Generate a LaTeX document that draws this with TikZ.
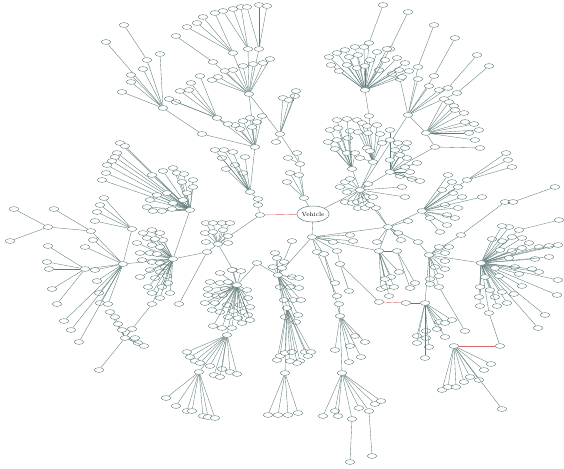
\documentclass[tikz,border=0pt]{standalone}
\usetikzlibrary{shapes.geometric}
\definecolor{ec}{RGB}{95,122,122}
\definecolor{rc}{RGB}{215,105,105}
\tikzset{
  nd/.style={ellipse,draw=ec,fill=white,line width=0.4pt,inner sep=0pt,minimum width=9.5pt,minimum height=4.8pt},
  root/.style={ellipse,draw=ec,fill=white,line width=0.5pt,inner sep=0pt,minimum width=26pt,minimum height=16pt,font=\fontsize{6}{6}\selectfont},
  ed/.style={draw=ec,line width=0.35pt},
  rd/.style={draw=rc,line width=0.4pt}
}
\newcommand\mk[3]{\node[nd] (#1) at (#2,#3) {};}
\newcommand\lk[2]{\draw[ed] (#1) -- (#2);}
\newcommand\fan[2]{\foreach \px/\py [count=\k] in {#2}{\node[nd] (#1-\k) at (\px,\py) {}; \draw[ed] (#1) -- (#1-\k);}}
\begin{document}
\begin{tikzpicture}[x=1pt,y=-1pt]
\useasboundingbox (0,0) rectangle (564,468);
% ---------- hubs ----------
\node[root] (V) at (313,214) {Vehicle};
\mk{a1}{260}{215}\mk{a2}{258}{205}\mk{a3}{258}{199}\mk{b1}{250}{192}\mk{b2}{255}{147}
\mk{T1}{249}{94}\mk{ta}{233}{53}\mk{tb}{248}{49}\mk{tc}{259}{49}\mk{td}{213}{62}
\mk{H2}{217}{118}\mk{H3}{163}{108}\mk{n1}{202}{134}\mk{h3a}{147}{60}
\mk{M1}{280}{134}\mk{m1}{304}{198}\mk{m2}{300}{164}
\mk{BL1}{237}{285}\mk{BL2}{227}{335}\mk{BL3}{199}{372}\mk{BL4}{173}{259}\mk{BL5}{190}{210}
\mk{BL6}{218}{244}\mk{BL7}{123}{264}\mk{BL8}{132}{229}\mk{BL9}{48}{227}\mk{BL10}{125}{338}
\mk{bl11}{85}{269}\mk{g1}{207}{252}\mk{g2}{179}{304}\mk{g3}{91}{231}\mk{g4}{233}{270}\mk{g5}{257}{263}\mk{g6}{152}{304}
\mk{CB1}{278}{275}\mk{CB2}{287}{308}\mk{CB3}{285}{373}\mk{cb5}{292}{241}
\mk{CC}{312}{237}\mk{CR}{388}{227}
\mk{R1}{365}{90}\mk{r1a}{369}{116}\mk{r1b}{369}{43}\mk{r1c}{390}{49}
\mk{R2}{408}{115}\mk{R3}{426}{133}\mk{R3b}{435}{147}
\mk{r2a}{418}{67}\mk{r2c}{434}{76}\mk{r2d}{448}{88}\mk{r2e}{457}{93}
\mk{C1}{352}{169}\mk{C2}{373}{162}\mk{C3}{390}{172}\mk{C4}{360}{190}
\mk{R5}{422}{211}\mk{r5a}{467}{180}
\mk{BR1}{481}{263}\mk{BR2}{429}{255}\mk{BR2b}{425}{303}\mk{BR3}{454}{346}
\mk{br1a}{489}{313}\mk{br1b}{500}{346}
\mk{k1}{379}{251}\mk{k2}{397}{251}
\mk{w1}{317}{252}\mk{w2}{324}{254}\mk{p0}{337}{251}\mk{p1}{340}{264}\mk{p2}{379}{302}\mk{p3}{406}{303}
\mk{q1}{340}{316}\mk{q2}{342}{373}\mk{q3}{352}{419}\mk{q4}{369}{411}
\mk{s1}{505}{202}\mk{s2}{513}{202}\mk{s3}{555}{187}\mk{s4}{461}{235}
\mk{u1}{418}{242}\mk{z1}{439}{287}\mk{z2}{465}{331}\mk{x1}{519}{230}
% ---------- backbone ----------
\draw[rd] (V) -- (a1);
\lk{a1}{a2}\lk{a2}{a3}\lk{a3}{b1}\lk{b1}{b2}\lk{b2}{T1}
\lk{T1}{ta}\lk{T1}{tb}\lk{T1}{tc}\lk{T1}{td}
\lk{H2}{b2}\lk{H3}{n1}\lk{n1}{b2}\lk{h3a}{H3}
\lk{T1}{M1}\lk{M1}{m2}\lk{m2}{m1}\lk{m1}{V}
\lk{V}{C4}\lk{C1}{C4}\lk{C2}{C4}\lk{C2}{r1a}\lk{r1a}{R1}\lk{R1}{r1b}\lk{R1}{r1c}
\lk{C4}{R2}\lk{R2}{R3}\lk{R3}{R3b}\lk{C3}{R3b}\lk{C3}{C4}
\lk{R2}{r2a}\lk{R2}{r2c}\lk{R2}{r2d}\lk{R2}{r2e}
\lk{V}{CC}\lk{CC}{CR}\lk{CR}{C4}\lk{CR}{R5}\lk{R5}{r5a}
\lk{BR2}{s4}\lk{s4}{s1}\lk{s1}{s2}\lk{s2}{s3}
\lk{CR}{u1}\lk{u1}{BR2}\lk{BR2}{BR1}\lk{BR1}{br1a}\lk{br1a}{br1b}\draw[rd] (br1b) -- (BR3);
\lk{BR2}{BR2b}\lk{BR2}{z1}\lk{z1}{z2}\lk{BR1}{x1}
\lk{CC}{w1}\lk{CC}{w2}\lk{CC}{p0}\lk{p0}{p1}\lk{p1}{p2}\draw[rd] (p2) -- (p3);\lk{p3}{BR2b}
\lk{w2}{q1}\lk{q1}{q2}\lk{q2}{q3}\lk{q2}{q4}
\lk{CC}{k1}\lk{k1}{k2}\lk{k1}{CR}
\lk{a1}{BL6}\lk{BL6}{g4}\lk{g4}{BL1}\lk{BL1}{g5}\lk{g5}{CB1}\lk{CB1}{CC}\lk{CB1}{cb5}
\lk{CB1}{CB2}\lk{CB2}{CB3}
\lk{BL6}{g1}\lk{g1}{BL4}\lk{g1}{g2}\lk{BL4}{BL5}\lk{BL4}{BL7}\lk{BL7}{BL8}\lk{BL7}{bl11}
\lk{BL9}{g3}\lk{g3}{BL7}\lk{BL10}{g6}\lk{g6}{BL4}
\lk{BL1}{BL2}\lk{BL2}{BL3}
% ---------- fans ----------
\fan{T1}{212/80,218/77,225/71,233/70,243/66,253/64,263/63,270/59}
\fan{ta}{203/17,215/13,197/23,187/27}
\fan{tb}{223/11,233/9,241/7}
\fan{tc}{247/7,259/5,267/6}
\fan{td}{176/36}
\fan{b2}{235/125,240/129,243/121,250/118,257/122,262/116,252/127}
\fan{b1}{243/173,235/165,226/169,222/158,215/150,224/150,233/152,245/157}
\fan{H3}{106/42,122/92,131/82,131/75,143/69,160/54}
\fan{h3a}{124/25}
\fan{H2}{180/91,189/90,191/83,200/76,176/102,169/99,228/124}
\fan{M1}{283/98,289/100,295/96,296/91,276/142}
\fan{m2}{288/158,297/153}
\fan{m1}{299/175,290/173,287/182}
\fan{BL5}{120/143,125/146,117/153,115/157,112/161,107/165,106/173,102/180,152/175,163/171,173/168,177/173,184/174,182/182,193/180,193/187,157/195,167/193,173/203,150/200,147/207,153/211,162/211,172/209,183/200,187/193}
\fan{BL4}{143/233,152/230,160/233,163/240,147/238,155/239,137/243,152/245,160/247,140/253,150/253,157/254,142/260,152/262,160/263,165/267,150/270,160/272,140/277,155/278,167/276,148/287,162/287,168/283,152/293,170/293,160/298}
\fan{BL7}{95/270,97/281,99/293,100/303,108/304,64/321,71/330,79/342,93/240,85/247}
\fan{bl11}{48/246,47/262,49/269,52/289,57/304}
\fan{BL8}{104/198,100/205,97/212,95/221}
\fan{BL9}{14/209,10/241}
\fan{g3}{54/209}
\fan{BL10}{110/312,115/317,118/324,122/330,132/329,135/338,138/343,144/346,99/370}
\fan{BL6}{206/223,213/223,222/223,230/223,205/233,213/232,223/230,228/236,206/242,228/243}
\fan{BL1}{220/273,232/270,241/271,210/282,220/283,228/282,208/289,225/289,247/290,208/295,217/296,223/295,248/298,205/303,215/303,227/305,240/305,250/307,212/310,220/312,233/311,243/312,248/315,228/317,238/318,250/320,213/326,222/328,232/328,242/323}
\fan{BL2}{187/352,190/357,195/361,200/363,210/366,222/369,230/372,237/374,214/375,220/377}
\fan{BL3}{166/398,176/406,187/411,192/411,203/416,208/417,215/418}
\fan{CB1}{275/253,277/258,284/262,273/267,282/268,292/277,299/278,280/287,290/287,299/288,284/300,293/300,301/300,298/315,285/317,296/322}
\fan{CB2}{277/360,280/356,285/353,292/352,300/361,305/352,311/352,308/356,297/363,290/361}
\fan{CB3}{268/415,278/415,288/415,298/413}
\fan{CC}{333/242,350/235,353/241}
\fan{w1}{337/296}
\fan{w2}{335/283}
\fan{p1}{349/291}
\fan{q1}{335/350,350/346,355/336,365/342,361/357,349/362,339/304}
\fan{q2}{323/416,335/411,338/416,359/408,375/404,381/401}
\fan{q3}{350/462}
\fan{q4}{372/456}
\fan{k1}{381/289,386/287,389/296,394/287,391/277,385/279,399/272}
\fan{k2}{410/288,415/283}
\fan{CR}{398/233,401/240,377/242,408/221,376/208}
\fan{R5}{448/175,452/182,442/190,453/193,462/197,458/187,445/205,458/208,447/215,455/218,447/225,440/232,430/218,482/197}
\fan{r5a}{506/153,508/160,512/167}
\fan{BR1}{492/239,502/241,512/237,522/238,529/243,539/247,549/246,558/245,500/250,512/251,522/248,535/259,549/257,558/280,509/258,515/267,519/274,532/269,539/272,522/286,557/295,545/315,538/328,514/294,507/303,502/292,495/297,497/306,480/306,479/297,480/287,490/290,499/276,495/268,485/277,509/227,502/226}
\fan{x1}{559/220}
\fan{BR3}{442/390,448/387,456/387,464/382,470/377,479/380,484/370,491/364,502/409}
\fan{BR2}{439/247,445/253,449/247,445/261,435/267,445/269,439/276,430/279,430/284}
\fan{BR2b}{417/336,417/343,426/331,426/338,429/347,425/358,439/322,445/323,452/320,437/329,445/337}
\fan{R2}{400/79,429/86,439/90,418/79}
\fan{r2a}{434/25}
\fan{r2c}{455/38}
\fan{r2d}{477/55}
\fan{r2e}{489/66}
\fan{R3}{444/99,449/102,454/106,455/110,464/113,465/122,474/124,479/130,469/133,475/140}
\fan{R3b}{480/148}
\fan{R1}{329/57,331/65,337/53,339/71,345/50,347/65,349/57,355/47,357/68,358/55,364/47,365/66,370/60,377/52,379/70,385/60,387/49,392/74,397/58,399/70,405/63,409/71,402/77}
\fan{r1b}{383/5}
\fan{r1c}{408/12}
\fan{C1}{337/120,330/130,338/128,328/142,337/140,335/149,347/153,355/153,348/138,350/131,347/119}
\fan{C2}{357/120,362/123,367/126,377/125,368/133,380/134,358/132,367/148,370/151,360/158,382/143}
\fan{C3}{390/130,390/140,398/143,407/143,395/150,405/148,400/155,390/160,407/158,417/163,405/167,400/176,412/179,420/181,410/172}
\fan{C4}{345/182,350/179,340/187,347/192,368/184,402/187,405/197,345/202,352/203,357/202,362/200,367/197,373/197,358/208,365/208,370/205}
\end{tikzpicture}
\end{document}
